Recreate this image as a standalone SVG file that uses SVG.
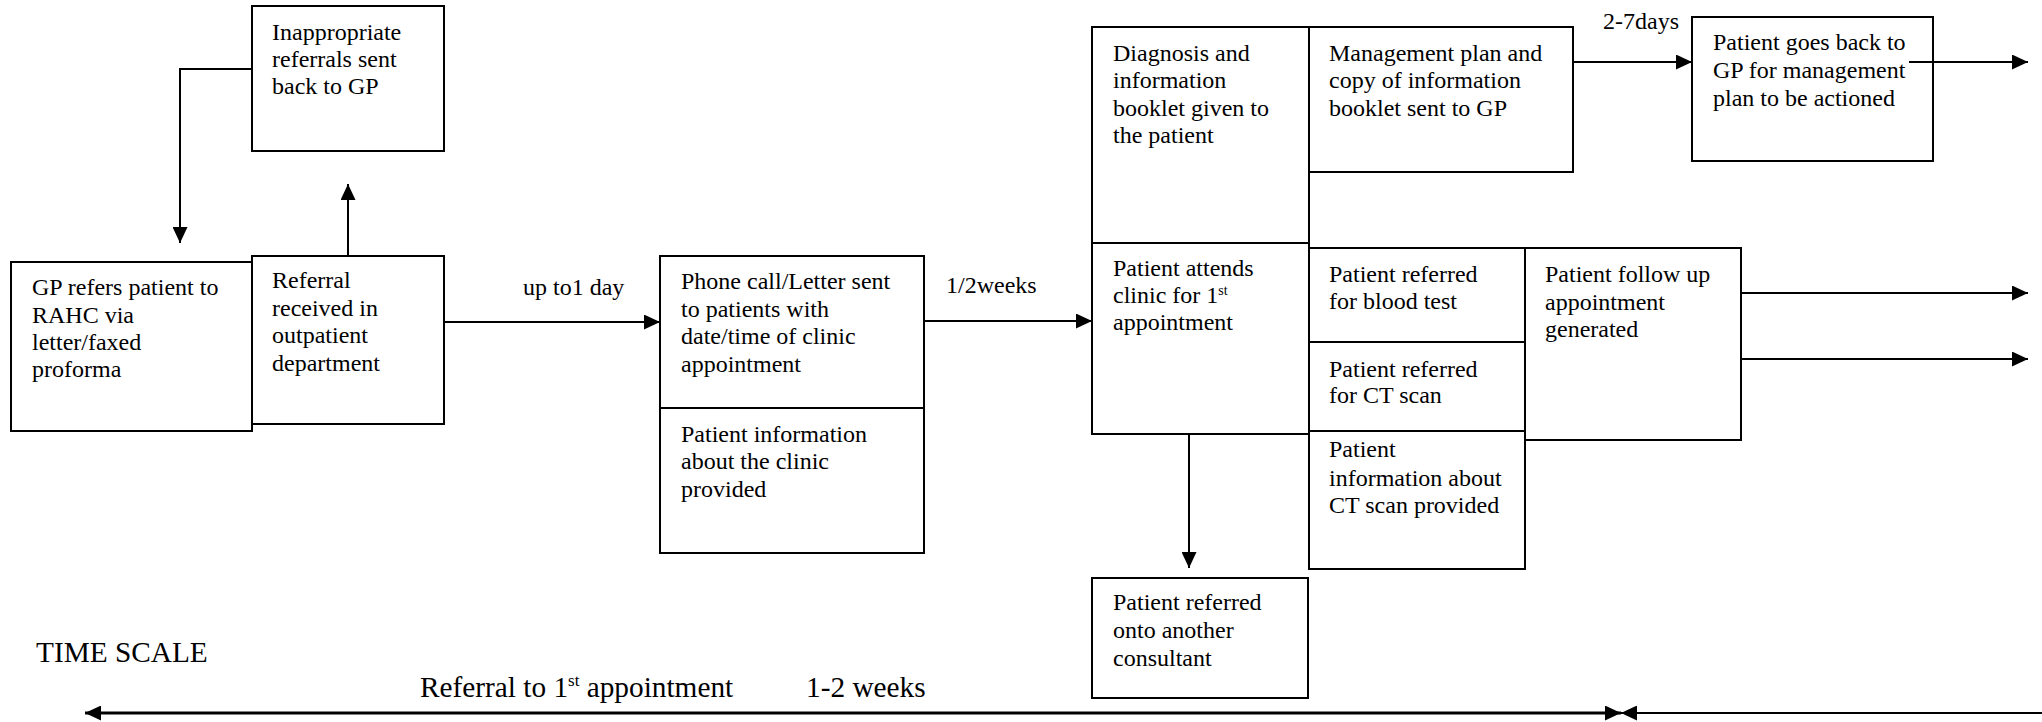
<svg xmlns="http://www.w3.org/2000/svg" width="2042" height="722" viewBox="0 0 2042 722">
<style>
.box{fill:#fff;stroke:#000;stroke-width:2}
.t{font-family:"Liberation Serif","Times New Roman",serif;font-size:24px;fill:#000}
.ts{font-family:"Liberation Serif","Times New Roman",serif;font-size:29.3px;fill:#000}
.c{fill:none;stroke:#000;stroke-width:2}
.sup{font-size:14px}
.supL{font-size:17px}
</style>
<defs>
<marker id="ah" viewBox="0 0 16 15" refX="16" refY="7.5" markerWidth="16" markerHeight="15" markerUnits="userSpaceOnUse" orient="auto-start-reverse">
<path d="M0,0 L16,7.5 L0,15 Z" fill="#000"/>
</marker>
</defs>
<rect width="2042" height="722" fill="#fff"/>

<g id="connectors">
<polyline class="c" points="252,69 180,69 180,243" marker-end="url(#ah)"/>
<line class="c" x1="348" y1="256" x2="348" y2="184" marker-end="url(#ah)"/>
<line class="c" x1="444" y1="322" x2="660" y2="322" marker-end="url(#ah)"/>
<line class="c" x1="924" y1="321" x2="1092" y2="321" marker-end="url(#ah)"/>
<line class="c" x1="1573" y1="62" x2="1692" y2="62" marker-end="url(#ah)"/>
<line class="c" x1="1189" y1="434" x2="1189" y2="568" marker-end="url(#ah)"/>
<line class="c" x1="1741" y1="293" x2="2028" y2="293" marker-end="url(#ah)"/>
<line class="c" x1="1741" y1="359" x2="2028" y2="359" marker-end="url(#ah)"/>
</g>

<g id="n-gp"><rect class="box" x="11" y="262" width="241" height="169"/>
<text class="t" x="32" y="295">GP refers patient to</text>
<text class="t" x="32" y="323">RAHC via</text>
<text class="t" x="32" y="350">letter/faxed</text>
<text class="t" x="32" y="377">proforma</text></g>

<g id="n-referral"><rect class="box" x="252" y="256" width="192" height="168"/>
<text class="t" x="272" y="288">Referral</text>
<text class="t" x="272" y="316">received in</text>
<text class="t" x="272" y="343">outpatient</text>
<text class="t" x="272" y="371">department</text></g>

<g id="n-inappropriate"><rect class="box" x="252" y="6" width="192" height="145"/>
<text class="t" x="272" y="40">Inappropriate</text>
<text class="t" x="272" y="67">referrals sent</text>
<text class="t" x="272" y="94">back to GP</text></g>

<text class="t" x="523" y="295">up to1 day</text>

<g id="n-phone"><rect class="box" x="660" y="256" width="264" height="152"/>
<text class="t" x="681" y="289">Phone call/Letter sent</text>
<text class="t" x="681" y="317">to patients with</text>
<text class="t" x="681" y="344">date/time of clinic</text>
<text class="t" x="681" y="372">appointment</text></g>

<g id="n-clinicinfo"><rect class="box" x="660" y="408" width="264" height="145"/>
<text class="t" x="681" y="442">Patient information</text>
<text class="t" x="681" y="469">about the clinic</text>
<text class="t" x="681" y="497">provided</text></g>

<text class="t" x="946" y="293">1/2weeks</text>

<g id="n-diagnosis"><rect class="box" x="1092" y="27" width="217" height="216"/>
<text class="t" x="1113" y="61">Diagnosis and</text>
<text class="t" x="1113" y="88">information</text>
<text class="t" x="1113" y="116">booklet given to</text>
<text class="t" x="1113" y="143">the patient</text></g>

<g id="n-attends"><rect class="box" x="1092" y="243" width="217" height="191"/>
<text class="t" x="1113" y="276">Patient attends</text>
<text class="t" x="1113" y="303">clinic for 1<tspan class="sup" dy="-8">st</tspan></text>
<text class="t" x="1113" y="330">appointment</text></g>

<g id="n-management"><rect class="box" x="1309" y="27" width="264" height="145"/>
<text class="t" x="1329" y="61">Management plan and</text>
<text class="t" x="1329" y="88">copy of information</text>
<text class="t" x="1329" y="116">booklet sent to GP</text></g>

<text class="t" x="1603" y="29">2-7days</text>

<g id="n-goesback"><rect class="box" x="1692" y="17" width="241" height="144"/>
<text class="t" x="1713" y="50">Patient goes back to</text>
<text class="t" x="1713" y="78">GP for management</text>
<text class="t" x="1713" y="106">plan to be actioned</text></g>
<line class="c" x1="1909" y1="62" x2="2028" y2="62" marker-end="url(#ah)"/>

<g id="n-blood"><rect class="box" x="1309" y="248" width="216" height="94"/>
<text class="t" x="1329" y="282">Patient referred</text>
<text class="t" x="1329" y="309">for blood test</text></g>

<g id="n-ct"><rect class="box" x="1309" y="342" width="216" height="89"/>
<text class="t" x="1329" y="377">Patient referred</text>
<text class="t" x="1329" y="403">for CT scan</text></g>

<g id="n-ctinfo"><rect class="box" x="1309" y="431" width="216" height="138"/>
<text class="t" x="1329" y="457">Patient</text>
<text class="t" x="1329" y="486">information about</text>
<text class="t" x="1329" y="513">CT scan provided</text></g>

<g id="n-followup"><rect class="box" x="1525" y="248" width="216" height="192"/>
<text class="t" x="1545" y="282">Patient follow up</text>
<text class="t" x="1545" y="310">appointment</text>
<text class="t" x="1545" y="337">generated</text></g>

<g id="n-consultant"><rect class="box" x="1092" y="578" width="216" height="120"/>
<text class="t" x="1113" y="610">Patient referred</text>
<text class="t" x="1113" y="638">onto another</text>
<text class="t" x="1113" y="666">consultant</text></g>

<g id="timescale">
<text class="ts" x="36" y="662">TIME SCALE</text>
<text class="ts" x="420" y="697">Referral to 1<tspan class="supL" dy="-11">st</tspan><tspan dy="11"> appointment</tspan></text>
<text class="ts" x="806" y="697">1-2 weeks</text>
<line x1="85" y1="713" x2="1621" y2="713" stroke="#000" stroke-width="3" marker-start="url(#ah)" marker-end="url(#ah)"/>
<line x1="1621" y1="713" x2="2042" y2="713" stroke="#000" stroke-width="2" marker-start="url(#ah)"/>
</g>
</svg>
